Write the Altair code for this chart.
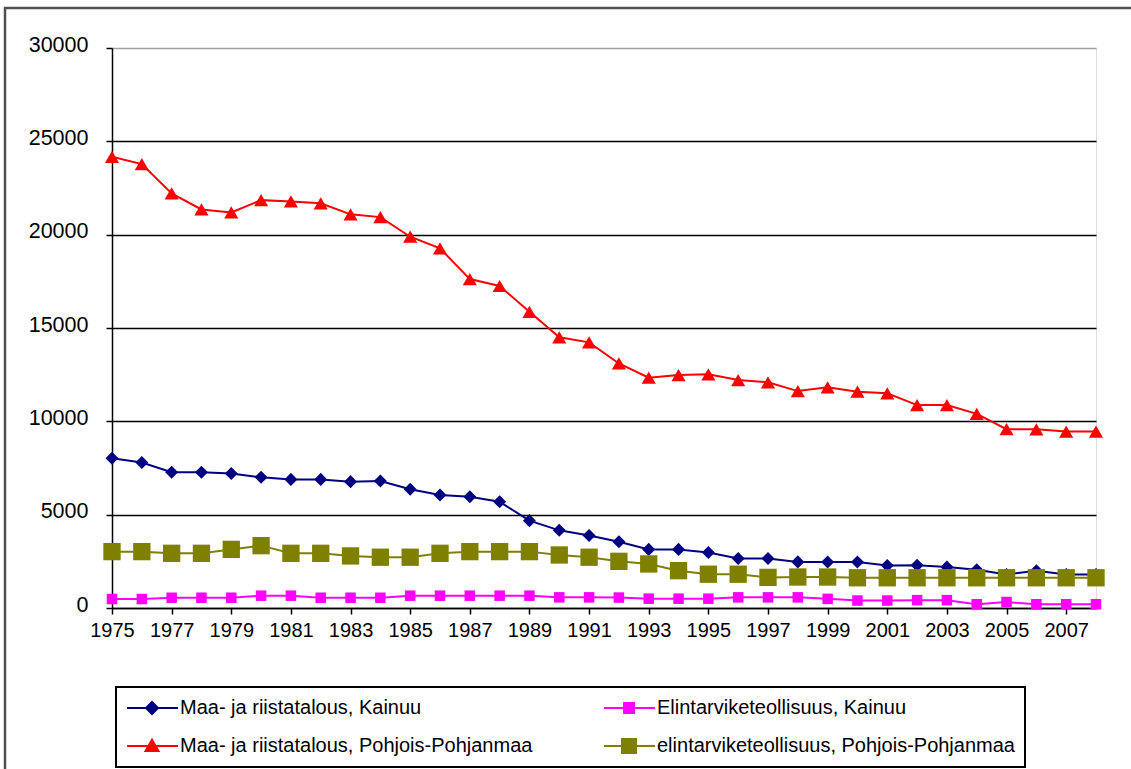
import altair as alt
import pandas as pd

# Employment by sector, 1975-2008
years = list(range(1975, 2009))

maa_kainuu = [8020, 7790, 7270, 7270, 7210, 7000, 6890, 6890, 6770, 6800,
              6360, 6050, 5960, 5690, 4680, 4160, 3880, 3550, 3140, 3140,
              2970, 2650, 2650, 2470, 2460, 2460, 2280, 2290, 2200, 2050,
              1800, 1990, 1800, 1800]
elint_kainuu = [480, 480, 550, 550, 550, 660, 660, 550, 550, 550,
                660, 660, 660, 660, 660, 570, 570, 560, 500, 500,
                500, 570, 570, 570, 490, 400, 400, 420, 420, 200,
                320, 200, 200, 200]
maa_pp = [24170, 23780, 22210, 21350, 21190, 21850, 21780, 21680, 21090, 20940,
          19890, 19270, 17620, 17250, 15870, 14500, 14230, 13100, 12340, 12480,
          12520, 12210, 12090, 11620, 11820, 11590, 11500, 10870, 10870, 10400,
          9580, 9570, 9450, 9450]
elint_pp = [3020, 3020, 2930, 2930, 3140, 3340, 2930, 2930, 2790, 2720,
            2720, 2930, 3020, 3020, 3020, 2840, 2720, 2500, 2360, 2000,
            1810, 1810, 1640, 1660, 1660, 1620, 1620, 1620, 1620, 1620,
            1620, 1620, 1620, 1620]

series_names = [
    "Maa- ja riistatalous, Kainuu",
    "Elintarviketeollisuus, Kainuu",
    "Maa- ja riistatalous, Pohjois-Pohjanmaa",
    "elintarviketeollisuus, Pohjois-Pohjanmaa",
]
series_values = [maa_kainuu, elint_kainuu, maa_pp, elint_pp]
series_colors = ["#000080", "#FF00FF", "#FF0000", "#808000"]
marker_shapes = ["diamond", "square", "triangle-up", "square"]
marker_sizes = [170, 110, 200, 300]

# legend symbols: a short line with the marker in its middle
legend_paths = [
    "M-1,0H4.1M1.5,-0.6L2.1,0L1.5,0.6L0.9,0Z",
    "M-1,0H4.1M1,-0.5H2V0.5H1Z",
    "M-1,0H4.1M1.5,-0.62L2.15,0.5H0.85Z",
    "M-1,0H4.1M0.8,-0.7H2.2V0.7H0.8Z",
]

# legend entries fill column by column
legend_order = [0, 2, 1, 3]
legend_domain = [series_names[i] for i in legend_order]
legend_colors = [series_colors[i] for i in legend_order]
legend_shapes = [legend_paths[i] for i in legend_order]

rows = []
for name, vals in zip(series_names, series_values):
    for yr, v in zip(years, vals):
        rows.append({"year": yr, "value": v, "series": name})
df = pd.DataFrame(rows)

FONT = "Liberation Sans"
W, H = 984, 560

x_enc = alt.X(
    "year:Q",
    scale=alt.Scale(domain=[1975, 2008], nice=False, zero=False),
    axis=alt.Axis(
        values=years,
        labelExpr="datum.value % 2 == 1 && datum.value < 2008 ? datum.value : ''",
        labelOverlap=False, labelFlush=False,
        grid=False, domainColor="black", domainWidth=1.5,
        tickColor="black", tickSize=6, tickWidth=1.5,
        labelPadding=6, labelFontSize=20, labelFont=FONT, labelColor="#000",
        title=None,
    ),
)
y_enc = alt.Y(
    "value:Q",
    scale=alt.Scale(domain=[0, 30000], nice=False),
    axis=alt.Axis(
        values=[0, 5000, 10000, 15000, 20000, 25000, 30000],
        format="d",
        grid=True,
        gridColor={"condition": {"test": "datum.value >= 30000", "value": "#a0a0a0"},
                   "value": "#000000"},
        gridWidth=1.5,
        labelOverlap=False, labelFlush=False,
        domainColor="black", domainWidth=1.5,
        tickColor="black", tickSize=6, tickWidth=1.5,
        labelPadding=18, labelOffset=-3,
        labelFontSize=21.5, labelFont=FONT, labelColor="#000",
        title=None,
    ),
)

layers = []
for name, color, shape, size in zip(series_names, series_colors, marker_shapes, marker_sizes):
    layers.append(
        alt.Chart(df)
        .transform_filter(alt.datum.series == name)
        .mark_line(
            color=color, strokeWidth=2,
            point=alt.OverlayMarkDef(shape=shape, size=size, filled=True,
                                     color=color, opacity=1),
        )
        .encode(x=x_enc, y=y_enc)
    )

# carries only the legend; its scales have fixed domains, so no rows are needed
legend_layer = (
    alt.Chart(df)
    .transform_filter("datum.year < 0")
    .mark_point(filled=True, opacity=1, fillOpacity=1, strokeOpacity=1)
    .encode(
        x="year:Q",
        y="value:Q",
        fill=alt.Fill("series:N",
                      scale=alt.Scale(domain=legend_domain, range=legend_colors),
                      legend=alt.Legend(
                          title=None, orient="none", legendX=4, legendY=639,
                          columns=2, columnPadding=67, rowPadding=17,
                          padding=10, strokeColor="#000",
                          symbolSize=400, symbolStrokeWidth=2, symbolOpacity=1,
                          labelFontSize=20, labelFont=FONT, labelColor="#000",
                          labelOffset=32, labelLimit=600,
                      )),
        stroke=alt.Stroke("series:N",
                          scale=alt.Scale(domain=legend_domain, range=legend_colors)),
        shape=alt.Shape("series:N",
                        scale=alt.Scale(domain=legend_domain, range=legend_shapes)),
    )
)

# outer frame around the whole chart area
frame = (
    alt.Chart(alt.Data(values=[{"f": 1}]))
    .mark_rect(fill=None, stroke="#505050", strokeWidth=2.5)
    .encode(x=alt.value(-107), x2=alt.value(W + 60),
            y=alt.value(-40), y2=alt.value(H + 200))
)

chart = (
    alt.layer(frame, *layers, legend_layer)
    .properties(
        width=W, height=H,
        autosize=alt.AutoSizeParams(type="none"),
        padding={"left": 112, "top": 48, "right": 35, "bottom": 161},
    )
    .configure_view(stroke="#a0a0a0", strokeWidth=2)
    .configure(background="white")
    .configure_legend(strokeWidth=2)
)

chart.save("out.html", embed_options={"renderer": "svg", "actions": False})
